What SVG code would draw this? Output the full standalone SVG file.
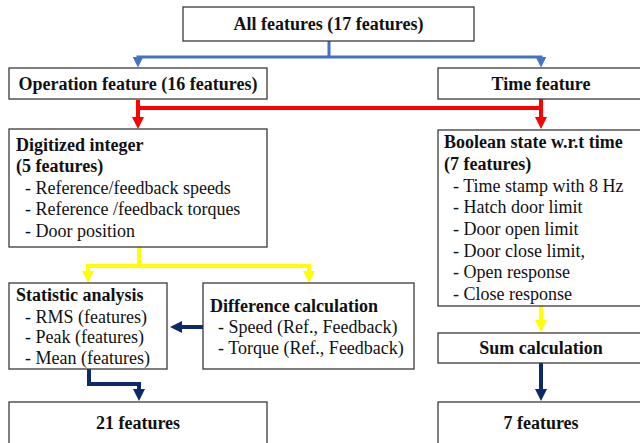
<svg xmlns="http://www.w3.org/2000/svg" width="640" height="443" viewBox="0 0 640 443">
  <style>
    .box { fill: #ffffff; stroke: #3a3a3a; stroke-width: 1.3; }
    .t { font-family: "Liberation Serif", "Times New Roman", serif; font-size: 18px; fill: #111111; }
    .b { font-weight: bold; }
    .c { text-anchor: middle; }
    .wire { fill: none; stroke-linejoin: miter; }
    .blue { stroke: #4472C4; stroke-width: 3; }
    .red { stroke: #FF0000; stroke-width: 4; }
    .yellow { stroke: #FFFF00; stroke-width: 4; }
    .navy { stroke: #0B2A6B; stroke-width: 4; }
  </style>
  <defs>
    <marker id="ah-blue" viewBox="0 0 12 12" refX="7" refY="6" markerUnits="userSpaceOnUse" markerWidth="11" markerHeight="11" orient="auto">
      <path d="M0,0 L12,6 L0,12 z" fill="#4472C4"/>
    </marker>
    <marker id="ah-red" viewBox="0 0 12 12" refX="7" refY="6" markerUnits="userSpaceOnUse" markerWidth="12" markerHeight="12" orient="auto">
      <path d="M0,0 L12,6 L0,12 z" fill="#FF0000"/>
    </marker>
    <marker id="ah-yellow" viewBox="0 0 12 12" refX="7" refY="6" markerUnits="userSpaceOnUse" markerWidth="12" markerHeight="12" orient="auto">
      <path d="M0,0 L12,6 L0,12 z" fill="#FFFF00"/>
    </marker>
    <marker id="ah-navy" viewBox="0 0 12 12" refX="7" refY="6" markerUnits="userSpaceOnUse" markerWidth="12" markerHeight="12" orient="auto">
      <path d="M0,0 L12,6 L0,12 z" fill="#0B2A6B"/>
    </marker>
  </defs>

  <rect width="640" height="443" fill="#ffffff"/>

  <!-- connectors -->
  <g id="connectors">
    <!-- all features split -->
    <path class="wire blue" d="M329,41 V57 M136.5,57 H542.5"/>
    <path class="wire blue" d="M138,57 V63" marker-end="url(#ah-blue)"/>
    <path class="wire blue" d="M541,57 V63" marker-end="url(#ah-blue)"/>
    <!-- operation / time to processing -->
    <path class="wire red" d="M138,100 V108 M541,99 V108 M136,108 H543"/>
    <path class="wire red" d="M138,108 V124" marker-end="url(#ah-red)"/>
    <path class="wire red" d="M541,108 V124" marker-end="url(#ah-red)"/>
    <!-- digitized integer split -->
    <path class="wire yellow" d="M139,247 V266 M86,266 H311"/>
    <path class="wire yellow" d="M88,266 V278" marker-end="url(#ah-yellow)"/>
    <path class="wire yellow" d="M309,266 V278" marker-end="url(#ah-yellow)"/>
    <!-- boolean state to sum -->
    <path class="wire yellow" d="M541,306 V327" marker-end="url(#ah-yellow)"/>
    <!-- difference to statistic -->
    <path class="wire navy" d="M203,327 H175" marker-end="url(#ah-navy)"/>
    <!-- statistic to 21 features -->
    <path class="wire navy" d="M89,369 V384 H139 V396" marker-end="url(#ah-navy)"/>
    <!-- sum to 7 features -->
    <path class="wire navy" d="M541,363 V396" marker-end="url(#ah-navy)"/>
  </g>

  <g id="n-all">
    <rect class="box" x="183" y="7" width="291" height="34"/>
    <text class="t b c" x="328.5" y="30">All features (17 features)</text>
  </g>

  <g id="n-operation">
    <rect class="box" x="9" y="68" width="258" height="31"/>
    <text class="t b c" x="138" y="90">Operation feature (16 features)</text>
  </g>

  <g id="n-time">
    <rect class="box" x="438" y="68" width="208" height="31"/>
    <text class="t b c" x="541" y="90">Time feature</text>
  </g>

  <g id="n-digitized">
    <rect class="box" x="9" y="129" width="258" height="118"/>
    <text class="t b" x="16" y="151">Digitized integer</text>
    <text class="t b" x="16" y="172">(5 features)</text>
    <text class="t" x="25" y="194">- Reference/feedback speeds</text>
    <text class="t" x="25" y="215">- Reference /feedback torques</text>
    <text class="t" x="25" y="237">- Door position</text>
  </g>

  <g id="n-boolean">
    <rect class="box" x="438" y="130" width="208" height="176"/>
    <text class="t b" x="444" y="148">Boolean state w.r.t time</text>
    <text class="t b" x="444" y="170">(7 features)</text>
    <text class="t" x="453" y="192">- Time stamp with 8 Hz</text>
    <text class="t" x="453" y="213">- Hatch door limit</text>
    <text class="t" x="453" y="235">- Door open limit</text>
    <text class="t" x="453" y="257">- Door close limit,</text>
    <text class="t" x="453" y="278">- Open response</text>
    <text class="t" x="453" y="300">- Close response</text>
  </g>

  <g id="n-statistic">
    <rect class="box" x="9" y="283" width="158" height="86"/>
    <text class="t b" x="16" y="301">Statistic analysis</text>
    <text class="t" x="25" y="323">- RMS (features)</text>
    <text class="t" x="25" y="343">- Peak (features)</text>
    <text class="t" x="25" y="364">- Mean (features)</text>
  </g>

  <g id="n-difference">
    <rect class="box" x="203" y="283" width="211" height="86"/>
    <text class="t b" x="210" y="312">Difference calculation</text>
    <text class="t" x="218" y="333">- Speed (Ref., Feedback)</text>
    <text class="t" x="218" y="354">- Torque (Ref., Feedback)</text>
  </g>

  <g id="n-sum">
    <rect class="box" x="438" y="333" width="208" height="30"/>
    <text class="t b c" x="541" y="354">Sum calculation</text>
  </g>

  <g id="n-21">
    <rect class="box" x="9" y="402" width="258" height="50"/>
    <text class="t b c" x="138" y="429">21 features</text>
  </g>

  <g id="n-7">
    <rect class="box" x="438" y="402" width="208" height="50"/>
    <text class="t b c" x="541" y="429">7 features</text>
  </g>
</svg>
